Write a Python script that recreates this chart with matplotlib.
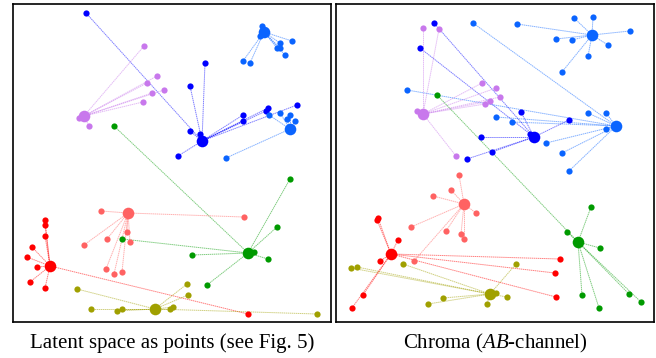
import matplotlib.pyplot as plt
import numpy as np

plt.rcParams['mathtext.fontset'] = 'custom'
plt.rcParams['mathtext.rm'] = 'Liberation Serif'
plt.rcParams['mathtext.it'] = 'Liberation Serif:italic'

# cluster colours
colors = {
    'blue': '#0000ff',
    'lightblue': '#0a64ff',
    'purple': '#c878ec',
    'green': '#009a00',
    'salmon': '#ff6262',
    'red': '#ff0000',
    'olive': '#a0a000',
}

# left panel: latent space (x, y in panel pixels, y down)
left_centers = {
    'blue': (202, 141),
    'lightblue_top': (264, 32),
    'lightblue': (290, 129),
    'purple': (84, 116),
    'green': (248, 253),
    'salmon': (128, 213),
    'red': (50, 266),
    'olive': (155, 309),
}
left_members = {
    'blue': [(86, 13), (205, 63), (190, 86), (190, 131), (200, 134), (178, 156),
             (243, 115), (243, 121), (266, 111), (268, 108), (297, 105)],
    'lightblue_top': [(262, 26), (260, 36), (280, 43), (277, 48), (280, 48), (292, 41),
                      (285, 55), (243, 61), (250, 63)],
    'lightblue': [(280, 113), (269, 115), (290, 115), (287, 119), (295, 121), (226, 158)],
    'purple': [(144, 46), (157, 76), (147, 83), (164, 90), (152, 93), (143, 102),
               (89, 126), (79, 118)],
    'green': [(114, 126), (290, 179), (277, 227), (268, 259), (192, 255), (122, 239),
              (207, 285), (254, 252)],
    'salmon': [(101, 211), (244, 217), (84, 245), (107, 239), (127, 232), (130, 242),
               (106, 269), (114, 274), (122, 272)],
    'red': [(45, 220), (45, 225), (45, 236), (32, 247), (27, 257), (37, 267),
            (30, 282), (45, 288), (248, 314)],
    'olive': [(77, 289), (91, 309), (117, 311), (122, 309), (187, 284), (188, 295),
              (170, 309), (173, 307), (317, 314)],
}

# right panel: chroma (AB-channel)
right_centers = {
    'lightblue_top': (592, 35),
    'lightblue': (616, 126),
    'blue': (534, 137),
    'purple': (423, 114),
    'green': (578, 242),
    'salmon': (464, 204),
    'red': (391, 254),
    'olive': (490, 294),
}
right_members = {
    'lightblue_top': [(574, 18), (593, 17), (630, 31), (608, 45), (588, 56), (562, 72),
                      (556, 39), (572, 40), (517, 24)],
    'lightblue': [(473, 23), (407, 90), (496, 117), (512, 122), (588, 113), (606, 113),
                  (606, 129), (546, 143), (562, 153), (569, 171)],
    'blue': [(434, 23), (420, 48), (521, 112), (569, 120), (530, 134), (481, 137),
             (492, 152), (467, 159)],
    'purple': [(423, 28), (439, 29), (482, 83), (496, 88), (500, 97), (490, 101),
               (485, 104), (417, 111), (456, 156)],
    'green': [(437, 95), (591, 207), (567, 232), (600, 248), (582, 295), (599, 308),
              (629, 294), (641, 302)],
    'salmon': [(459, 175), (433, 196), (451, 190), (476, 213), (411, 227), (446, 231),
               (461, 234), (464, 239), (414, 261)],
    'red': [(378, 218), (377, 220), (398, 240), (380, 261), (363, 295), (352, 308),
            (560, 259), (555, 273), (556, 297)],
    'olive': [(351, 268), (357, 267), (403, 264), (516, 264), (507, 297), (496, 293),
              (443, 298), (428, 304), (487, 304)],
}

fig = plt.figure(figsize=(6.56, 3.58), dpi=100)
W, H = 656, 358


def draw_panel(rect, centers, members, xlim, caption):
    ax = fig.add_axes([rect[0] / W, 1 - rect[3] / H, (rect[2] - rect[0]) / W,
                       (rect[3] - rect[1]) / H])
    for key, (cx, cy) in centers.items():
        col = colors[key.replace('_top', '')]
        pts = np.array(members[key])
        for px, py in pts:
            ax.plot([cx, px], [cy, py], color=col, lw=0.7, alpha=0.5,
                    linestyle=(0, (1.5, 0.6)), zorder=1)
        ax.scatter(pts[:, 0], pts[:, 1], s=20, color=col, zorder=2, linewidths=0)
        ax.scatter([cx], [cy], s=70, color=col, zorder=3, linewidths=0)
    ax.set_xlim(xlim)
    ax.set_ylim(322, 4)
    ax.set_xticks([])
    ax.set_yticks([])
    for s in ax.spines.values():
        s.set_linewidth(1.2)
        s.set_color('black')
    fig.text((rect[0] + rect[2]) / 2 / W, 1 - 343 / H, caption, ha='center',
             va='center', fontsize=15, family='Liberation Serif')
    return ax


draw_panel((13, 4, 331, 322), left_centers, left_members, (13, 331),
           'Latent space as points (see Fig. 5)')
draw_panel((336, 4, 654, 322), right_centers, right_members, (336, 654),
           'Chroma ($\\mathit{AB}$-channel)')

fig.savefig('out.png', dpi=100)
